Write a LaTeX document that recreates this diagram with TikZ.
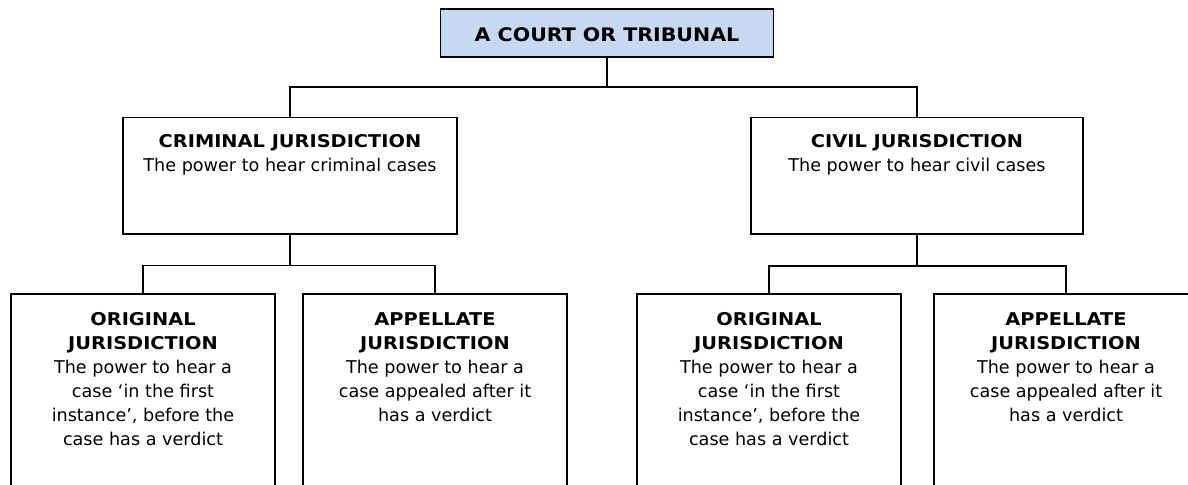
\documentclass[tikz,border=0pt]{standalone}
\usepackage{fontspec}
\setmainfont{DejaVu Sans}
\newfontfamily\hdfont[FakeStretch=1.1]{DejaVu Sans}
\definecolor{titlefill}{HTML}{C6D9F1}
\begin{document}
\begin{tikzpicture}[x=0.75pt,y=-0.75pt,
  box/.style={draw=black,line width=1.4pt,inner sep=0pt,rectangle},
  conn/.style={draw=black,line width=1.4pt},
  lbl/.style={inner sep=0pt,align=center,anchor=base,font=\fontsize{13.2}{18}\selectfont}
]
\useasboundingbox (0,0) rectangle (1188,485);
\clip (0,0) rectangle (1188,485);
% boxes
\node[box,fill=titlefill,minimum width=249.75pt,minimum height=36pt] (top) at (607,33) {};
\node[box,minimum width=250.5pt,minimum height=87.4pt] (crim) at (290,175.75) {};
\node[box,minimum width=249pt,minimum height=87.4pt] (civ) at (917,175.75) {};
\node[box,minimum width=198pt,minimum height=169.5pt] (oc) at (143,407) {};
\node[box,minimum width=198pt,minimum height=169.5pt] (ac) at (435,407) {};
\node[box,minimum width=198pt,minimum height=169.5pt] (ov) at (769,407) {};
\node[box,minimum width=198pt,minimum height=169.5pt] (av) at (1066,407) {};
% texts (anchor base = baseline of the last line)
\node[lbl,font=\hdfont\bfseries\fontsize{14}{18}\selectfont] (ttop) at (607,42) {A COURT OR TRIBUNAL};
\node[lbl] (tcrim) at (290,171.5) {{\hdfont\bfseries CRIMINAL JURISDICTION}\\The power to hear criminal cases};
\node[lbl] (tciv) at (917,171.5) {{\hdfont\bfseries CIVIL JURISDICTION}\\The power to hear civil cases};
\node[lbl] (toc) at (143,445) {{\hdfont\bfseries ORIGINAL}\\{\hdfont\bfseries JURISDICTION}\\The power to hear a\\case ‘in the first\\instance’, before the\\case has a verdict};
\node[lbl] (tac) at (435,421) {{\hdfont\bfseries APPELLATE}\\{\hdfont\bfseries JURISDICTION}\\The power to hear a\\case appealed after it\\has a verdict};
\node[lbl] (tov) at (769,445) {{\hdfont\bfseries ORIGINAL}\\{\hdfont\bfseries JURISDICTION}\\The power to hear a\\case ‘in the first\\instance’, before the\\case has a verdict};
\node[lbl] (tav) at (1066,421) {{\hdfont\bfseries APPELLATE}\\{\hdfont\bfseries JURISDICTION}\\The power to hear a\\case appealed after it\\has a verdict};
% connectors
\draw[conn] (top.south) -- ++(0,29) -| (crim.north);
\draw[conn] (top.south) -- ++(0,29) -| (civ.north);
\draw[conn] (crim.south) -- ++(0,30.5) -| (oc.north);
\draw[conn] (crim.south) -- ++(0,30.5) -| (ac.north);
\draw[conn] (civ.south) -- ++(0,31) -| (ov.north);
\draw[conn] (civ.south) -- ++(0,31) -| (av.north);
\end{tikzpicture}
\end{document}
